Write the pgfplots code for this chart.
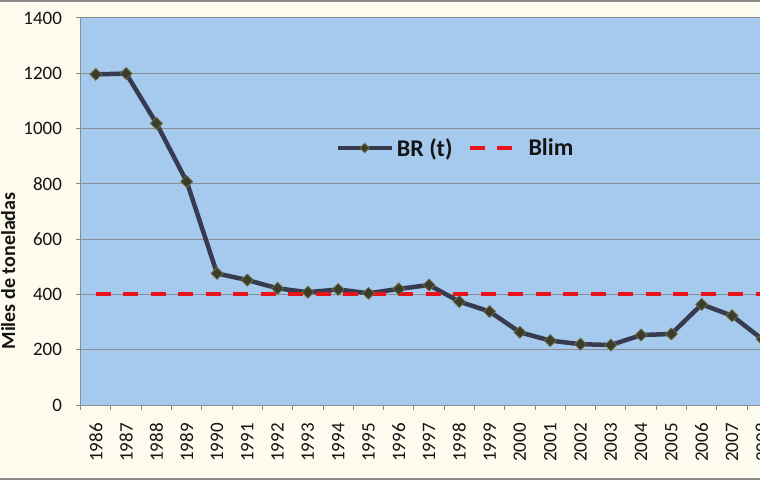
\documentclass[border=0pt]{standalone}
\usepackage{pgfplots}
\pgfplotsset{compat=1.18}
\usepackage{fontspec}
\setmainfont{Carlito}
\definecolor{cream}{HTML}{FDFAEE}
\definecolor{plotbg}{HTML}{A6C9EE}
\definecolor{gridc}{HTML}{8A8E94}
\definecolor{brline}{HTML}{363B50}
\definecolor{mkfill}{HTML}{3C3C2C}
\definecolor{mkdraw}{HTML}{6C6C3C}
\definecolor{blim}{HTML}{E8141C}
\definecolor{bordc}{HTML}{8A8A86}
\definecolor{txt}{HTML}{141414}
\pgfplotsset{
  brleg/.style={legend image code/.code={\draw[mark repeat=2, mark phase=2, ##1, mark size=3.3pt] plot coordinates {(0pt,0pt) (27pt,0pt) (54pt,0pt)};}},
  blimleg/.style={legend image code/.code={\draw[##1] plot coordinates {(0pt,0pt) (45pt,0pt)}; \path (54pt,0pt);}},
}
\begin{document}
\begin{tikzpicture}
\useasboundingbox (0,0) rectangle (760pt,480pt);
\fill[cream] (0,0) rectangle (760pt,480pt);
\fill[bordc] (0,477.5pt) rectangle (760pt,480pt);
\fill[bordc] (0,0) rectangle (760pt,2.5pt);
\node[rotate=90, anchor=base, inner sep=0pt, text=txt, font=\fontsize{20}{24}\selectfont\bfseries] at (15pt,209pt) {Miles de toneladas};
\begin{scope}
\clip (0,0) rectangle (760pt,480pt);
\begin{axis}[
  at={(80.7pt,75pt)}, anchor=south west, scale only axis,
  width=727pt, height=387pt,
  xmin=1985.5, xmax=2009.5, ymin=0, ymax=1400,
  ytick={0,200,...,1400},
  xtick={1985.5,1986.5,...,2009.5},
  x tick label as interval,
  xticklabels={1986,1987,1988,1989,1990,1991,1992,1993,1994,1995,1996,1997,1998,1999,2000,2001,2002,2003,2004,2005,2006,2007,2008,2009},
  xtick pos=bottom, ytick pos=left,
  tick align=outside, major tick length=5pt,
  tick style={gridc, line width=1pt},
  axis line style={gridc, line width=1pt},
  ymajorgrids, grid style={gridc, line width=1pt},
  axis background/.style={fill=plotbg},
  /pgf/number format/assume math mode=true,
  /pgf/number format/1000 sep={},
  ticklabel style={font=\fontsize{19}{22}\selectfont, text=txt, inner sep=0pt},
  xticklabel style={rotate=90, anchor=east},
  yticklabel style={anchor=east},
  xticklabel shift=13pt,
  yticklabel shift=13.5pt,
  legend columns=2,
  legend style={draw=none, fill=none, at={(0.350,0.664)}, anchor=west,
    inner xsep=0pt, inner ysep=0pt, text=txt,
    font=\fontsize{24}{28}\selectfont\bfseries,
    nodes={inner sep=0pt},
    /tikz/every odd column/.append style={column sep=3pt},
    /tikz/every even column/.append style={column sep=15pt}},
]
\addplot[brline, line width=4.5pt, mark=square*, mark size=4.2pt,
  mark options={rotate=45, fill=mkfill, draw=mkdraw, line width=0.8pt, solid},
  brleg]
coordinates {
(1986,1196) (1987,1199) (1988,1019) (1989,808) (1990,476) (1991,452)
(1992,422) (1993,408) (1994,418) (1995,404) (1996,420) (1997,434)
(1998,374) (1999,338) (2000,263) (2001,233) (2002,220) (2003,217)
(2004,253) (2005,257) (2006,364) (2007,323) (2008,238)
};
\addlegendentry{BR (t)}
\addplot[blim, line width=4pt, dash pattern=on 15pt off 12.5pt, blimleg]
coordinates {(1986,400) (2009.5,400)};
\addlegendentry{Blim}
\end{axis}
\end{scope}
\end{tikzpicture}
\end{document}
